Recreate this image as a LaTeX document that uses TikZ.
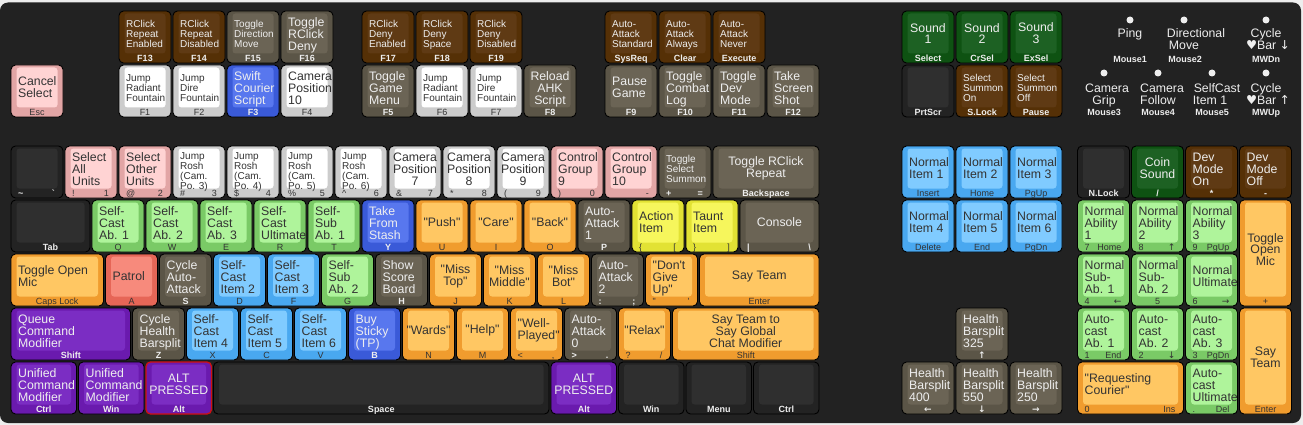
\documentclass[tikz,border=0pt]{standalone}
\usepackage{fontspec}
\setmainfont{Liberation Sans}
\newfontfamily\kbf{Liberation Sans}
\newfontfamily\symf{DejaVu Sans}
\definecolor{kBg}{HTML}{222222}
\definecolor{kOut}{HTML}{EDEDED}
\definecolor{kDkO}{HTML}{232323}\definecolor{kDkI}{HTML}{2F2F2F}
\definecolor{kBrO}{HTML}{553006}\definecolor{kBrI}{HTML}{5F3A14}
\definecolor{kTpO}{HTML}{5B5547}\definecolor{kTpI}{HTML}{6B6455}
\definecolor{kWhO}{HTML}{CCCCCC}\definecolor{kWhI}{HTML}{FFFFFF}
\definecolor{kBlO}{HTML}{3A5AD8}\definecolor{kBlI}{HTML}{5877EE}
\definecolor{kPkO}{HTML}{E2A5A5}\definecolor{kPkI}{HTML}{FFD3D3}
\definecolor{kLgO}{HTML}{7ACA66}\definecolor{kLgI}{HTML}{AFF49B}
\definecolor{kDgO}{HTML}{0E5212}\definecolor{kDgI}{HTML}{1D6123}
\definecolor{kOrO}{HTML}{F09C2E}\definecolor{kOrI}{HTML}{FFC763}
\definecolor{kYeO}{HTML}{E2E234}\definecolor{kYeI}{HTML}{F6F65C}
\definecolor{kReO}{HTML}{E66657}\definecolor{kReI}{HTML}{F78A7C}
\definecolor{kPuO}{HTML}{6A1AAE}\definecolor{kPuI}{HTML}{7B2DC3}
\definecolor{kLbO}{HTML}{49A8F0}\definecolor{kLbI}{HTML}{80CBFF}
\definecolor{kRedB}{HTML}{D01010}
\definecolor{kLtT}{HTML}{EEEEEE}
\definecolor{kDkT}{HTML}{333333}
\pgfkeys{
 /kb/w/.store in=\kbw, /kb/h/.store in=\kbh, /kb/al/.store in=\kbal,
 /kb/sz/.store in=\kbsz, /kb/txt/.store in=\kbtxt, /kb/bl/.store in=\kbbl,
 /kb/bc/.store in=\kbbc, /kb/br/.store in=\kbbr, /kb/oc/.store in=\kboc,
 /kb/ic/.store in=\kbic, /kb/fc/.store in=\kbfc, /kb/lf/.store in=\kblf,
 /kb/bd/.store in=\kbbd, /kb/bw/.store in=\kbbw, /kb/fo/.store in=\kbfo,
 /kb/sWhite/.style={oc=kWhO,ic=kWhI,fc=kDkT,lf=\mdseries},
 /kb/sPink/.style={oc=kPkO,ic=kPkI,fc=kDkT,lf=\mdseries},
 /kb/sLGreen/.style={oc=kLgO,ic=kLgI,fc=kDkT,lf=\mdseries},
 /kb/sOrange/.style={oc=kOrO,ic=kOrI,fc=kDkT,lf=\mdseries},
 /kb/sYellow/.style={oc=kYeO,ic=kYeI,fc=kDkT,lf=\mdseries},
 /kb/sRed/.style={oc=kReO,ic=kReI,fc=kDkT,lf=\mdseries},
 /kb/sLBlue/.style={oc=kLbO,ic=kLbI,fc=kDkT,lf=\mdseries},
 /kb/sBrown/.style={oc=kBrO,ic=kBrI,fc=kLtT,lf=\bfseries},
 /kb/sTaupe/.style={oc=kTpO,ic=kTpI,fc=kLtT,lf=\bfseries},
 /kb/sBlue/.style={oc=kBlO,ic=kBlI,fc=kLtT,lf=\bfseries},
 /kb/sPurple/.style={oc=kPuO,ic=kPuI,fc=kLtT,lf=\bfseries},
 /kb/sDGreen/.style={oc=kDgO,ic=kDgI,fc=kLtT,lf=\bfseries},
 /kb/sDark/.style={oc=kDkO,ic=kDkI,fc=kLtT,lf=\bfseries},
}
\def\szS{S}\def\alTL{tl}\def\alTC{tc}\def\alC{c}\def\alCL{cl}
\newcounter{kbn}
\newcommand\Key[3]{%
 \begingroup
 \stepcounter{kbn}%
 \pgfkeys{/kb/.cd,w=1,h=1,al=tl,sz=L,txt={},bl={},bc={},br={},bd=black,bw=0.9pt,fo={},#3}%
 \pgfmathsetmacro\xa{10+(#1)*54+1}%
 \pgfmathsetmacro\xb{10+(#1+\kbw)*54-1}%
 \pgfmathsetmacro\ya{10+(#2)*54+1}%
 \pgfmathsetmacro\yb{10+(#2+\kbh)*54-1}%
 \pgfmathsetmacro\xm{(\xa+\xb)/2}%
 \pgfmathsetmacro\ym{(\ya+\yb-7)/2}%
 \ifx\kbsz\szS
   \def\kbfont{\kbf\fontsize{10}{10}\selectfont\lineskiplimit=-50pt\relax}\def\kboff{16.5}%
 \else
   \def\kbfont{\kbf\fontsize{12.3}{11.8}\selectfont\lineskiplimit=-50pt\relax}\def\kboff{15.5}%
 \fi
 \ifx\kbfo\empty\else\let\kboff\kbfo\fi
 \draw[draw=\kbbd,fill=\kboc,line width=\kbbw,rounded corners=4.5pt] (\xa,\ya) rectangle (\xb,\yb);
 \fill[\kbic,rounded corners=3pt] (\xa+5.5,\ya+2.5) rectangle (\xb-5.5,\yb-9.5);
 \ifx\kbtxt\empty\else
  \ifx\kbal\alTL
   \node[inner sep=0,text=\kbfc,anchor=base west] (kt\thekbn) at (\xa+7,\ya+\kboff)
     {\kbfont\vtop{\let\\\cr\halign{##\hfil\cr\kbtxt\crcr}}};\fi
  \ifx\kbal\alTC
   \node[inner sep=0,text=\kbfc,anchor=base] (kt\thekbn) at (\xm,\ya+\kboff)
     {\kbfont\vtop{\let\\\cr\halign{\hfil##\hfil\cr\kbtxt\crcr}}};\fi
  \ifx\kbal\alCL
   \node[inner sep=0,text=\kbfc,anchor=west] (kt\thekbn) at (\xa+7,\ym)
     {\kbfont\vbox{\let\\\cr\halign{##\hfil\cr\kbtxt\crcr}}};\fi
  \ifx\kbal\alC
   \node[inner sep=0,text=\kbfc,anchor=center] (kt\thekbn) at (\xm,\ym)
     {\kbfont\vbox{\let\\\cr\halign{\hfil##\hfil\cr\kbtxt\crcr}}};\fi
 \fi
 \node[inner sep=0,text=\kbfc,font=\kbf\fontsize{9}{9}\selectfont\kblf,anchor=base west] (kl\thekbn) at (\xa+7,\yb-1.8) {\kbbl};
 \node[inner sep=0,text=\kbfc,font=\kbf\fontsize{9}{9}\selectfont\kblf,anchor=base] (kc\thekbn) at (\xm,\yb-1.8) {\kbbc};
 \node[inner sep=0,text=\kbfc,font=\kbf\fontsize{9}{9}\selectfont\kblf,anchor=base east] (kr\thekbn) at (\xb-8,\yb-1.8) {\kbbr};
 \endgroup}
\tikzset{
 mtxt/.style={text=kLtT,font=\kbf\fontsize{12.3}{12}\selectfont,inner sep=0,anchor=base},
 mlab/.style={text=kLtT,font=\kbf\fontsize{9}{9}\selectfont\bfseries,inner sep=0,anchor=base},
 mdot/.style={circle,fill=kLtT,inner sep=0,minimum size=7pt}
}
\begin{document}
\begin{tikzpicture}[x=1pt,y=-1pt]
\useasboundingbox (0,0) rectangle (1303,425);
\fill[kOut] (0,0) rectangle (1303,425);
\fill[kBg,rounded corners=8pt] (0,2.5) rectangle (1301,423);
% ---- row 0
\Key{2}{0}{sBrown,sz=S,txt={RClick\\Repeat\\Enabled},bc=F13}
\Key{3}{0}{sBrown,sz=S,txt={RClick\\Repeat\\Disabled},bc=F14}
\Key{4}{0}{sTaupe,sz=S,txt={Toggle\\Direction\\Move},bc=F15}
\Key{5}{0}{sTaupe,txt={Toggle\\RClick\\Deny},bc=F16}
\Key{6.5}{0}{sBrown,sz=S,txt={RClick\\Deny\\Enabled},bc=F17}
\Key{7.5}{0}{sBrown,sz=S,txt={RClick\\Deny\\Space},bc=F18}
\Key{8.5}{0}{sBrown,sz=S,txt={RClick\\Deny\\Disabled},bc=F19}
\Key{11}{0}{sBrown,sz=S,txt={Auto-\\Attack\\Standard},bc=SysReq}
\Key{12}{0}{sBrown,sz=S,txt={Auto-\\Attack\\Always},bc=Clear}
\Key{13}{0}{sBrown,sz=S,txt={Auto-\\Attack\\Never},bc=Execute}
\Key{16.5}{0}{sDGreen,al=c,txt={Sound\\1},bc=Select}
\Key{17.5}{0}{sDGreen,al=c,txt={Sound\\2},bc=CrSel}
\Key{18.5}{0}{sDGreen,al=c,txt={Sound\\3},bc=ExSel}
% ---- row 1
\Key{0}{1}{sPink,al=cl,txt={Cancel\\Select},bc=Esc}
\Key{2}{1}{sWhite,sz=S,txt={Jump\\Radiant\\Fountain},bc=F1}
\Key{3}{1}{sWhite,sz=S,txt={Jump\\Dire\\Fountain},bc=F2}
\Key{4}{1}{sBlue,txt={Swift\\Courier\\Script},bc=F3}
\Key{5}{1}{sWhite,txt={Camera\\Position\\10},bc=F4}
\Key{6.5}{1}{sTaupe,txt={Toggle\\Game\\Menu},bc=F5}
\Key{7.5}{1}{sWhite,sz=S,txt={Jump\\Radiant\\Fountain},bc=F6}
\Key{8.5}{1}{sWhite,sz=S,txt={Jump\\Dire\\Fountain},bc=F7}
\Key{9.5}{1}{sTaupe,al=tc,txt={Reload\\AHK\\Script},bc=F8}
\Key{11}{1}{sTaupe,al=cl,txt={Pause\\Game},bc=F9}
\Key{12}{1}{sTaupe,txt={Toggle\\Combat\\Log},bc=F10}
\Key{13}{1}{sTaupe,txt={Toggle\\Dev\\Mode},bc=F11}
\Key{14}{1}{sTaupe,txt={Take\\Screen\\Shot},bc=F12}
\Key{16.5}{1}{sDark,bc=PrtScr}
\Key{17.5}{1}{sBrown,sz=S,txt={Select\\Summon\\On},bc=S.Lock}
\Key{18.5}{1}{sBrown,sz=S,txt={Select\\Summon\\Off},bc=Pause}
% ---- number row
\Key{0}{2.5}{sDark,bl=\textasciitilde,br=\textasciigrave}
\Key{1}{2.5}{sPink,txt={Select\\All\\Units},bl=!,br=1}
\Key{2}{2.5}{sPink,txt={Select\\Other\\Units},bl=@,br=2}
\Key{3}{2.5}{sWhite,sz=S,fo=13,txt={Jump\\Rosh\\(Cam.\\Po. 3)},bl=\#,br=3}
\Key{4}{2.5}{sWhite,sz=S,fo=13,txt={Jump\\Rosh\\(Cam.\\Po. 4)},bl=\$,br=4}
\Key{5}{2.5}{sWhite,sz=S,fo=13,txt={Jump\\Rosh\\(Cam.\\Po. 5)},bl=\%,br=5}
\Key{6}{2.5}{sWhite,sz=S,fo=13,txt={Jump\\Rosh\\(Cam.\\Po. 6)},bl=\textasciicircum,br=6}
\Key{7}{2.5}{sWhite,al=tc,txt={Camera\\Position\\7},bl=\&,br=7}
\Key{8}{2.5}{sWhite,al=tc,txt={Camera\\Position\\8},bl=*,br=8}
\Key{9}{2.5}{sWhite,al=tc,txt={Camera\\Position\\9},bl=(,br=9}
\Key{10}{2.5}{sPink,txt={Control\\Group\\9},bl=),br=0}
\Key{11}{2.5}{sPink,txt={Control\\Group\\10},br=-}
\Key{12}{2.5}{sTaupe,sz=S,txt={Toggle\\Select\\Summon},bl=+,br={=}}
\Key{13}{2.5}{sTaupe,w=2,al=c,txt={Toggle RClick\\Repeat},bc=Backspace}
\Key{16.5}{2.5}{sLBlue,al=cl,txt={Normal\\Item 1},bc=Insert}
\Key{17.5}{2.5}{sLBlue,al=cl,txt={Normal\\Item 2},bc=Home}
\Key{18.5}{2.5}{sLBlue,al=cl,txt={Normal\\Item 3},bc=PgUp}
\Key{19.75}{2.5}{sDark,bc=N.Lock}
\Key{20.75}{2.5}{sDGreen,al=c,txt={Coin\\Sound},bc=/}
\Key{21.75}{2.5}{sBrown,txt={Dev\\Mode\\On},bc=*}
\Key{22.75}{2.5}{sBrown,txt={Dev\\Mode\\Off},bc=-}
% ---- Q row
\Key{0}{3.5}{sDark,w=1.5,bc=Tab}
\Key{1.5}{3.5}{sLGreen,txt={Self-\\Cast\\Ab. 1},bc=Q}
\Key{2.5}{3.5}{sLGreen,txt={Self-\\Cast\\Ab. 2},bc=W}
\Key{3.5}{3.5}{sLGreen,txt={Self-\\Cast\\Ab. 3},bc=E}
\Key{4.5}{3.5}{sLGreen,txt={Self-\\Cast\\Ultimate},bc=R}
\Key{5.5}{3.5}{sLGreen,txt={Self-\\Sub\\Ab. 1},bc=T}
\Key{6.5}{3.5}{sBlue,txt={Take\\From\\Stash},bc=Y}
\Key{7.5}{3.5}{sOrange,al=c,txt={"Push"},bc=U}
\Key{8.5}{3.5}{sOrange,al=c,txt={"Care"},bc=I}
\Key{9.5}{3.5}{sOrange,al=c,txt={"Back"},bc=O}
\Key{10.5}{3.5}{sTaupe,txt={Auto-\\Attack\\1},bc=P}
\Key{11.5}{3.5}{sYellow,al=cl,txt={Action\\Item},bl=\{,br=[}
\Key{12.5}{3.5}{sYellow,al=cl,txt={Taunt\\Item},bl=\},br=]}
\Key{13.5}{3.5}{sTaupe,w=1.5,al=c,txt={Console},bl=|,br=\textbackslash}
\Key{16.5}{3.5}{sLBlue,al=cl,txt={Normal\\Item 4},bc=Delete}
\Key{17.5}{3.5}{sLBlue,al=cl,txt={Normal\\Item 5},bc=End}
\Key{18.5}{3.5}{sLBlue,al=cl,txt={Normal\\Item 6},bc=PgDn}
\Key{19.75}{3.5}{sLGreen,txt={Normal\\Ability\\1},bl=7,br=Home}
\Key{20.75}{3.5}{sLGreen,txt={Normal\\Ability\\2},bl=8,br=\symf ↑}
\Key{21.75}{3.5}{sLGreen,txt={Normal\\Ability\\3},bl=9,br=PgUp}
\Key{22.75}{3.5}{sOrange,h=2,al=c,txt={Toggle\\Open\\Mic},bc=+}
% ---- A row
\Key{0}{4.5}{sOrange,w=1.75,al=cl,txt={Toggle Open\\Mic},bc=Caps Lock}
\Key{1.75}{4.5}{sRed,al=cl,txt={Patrol},bc=A}
\Key{2.75}{4.5}{sTaupe,txt={Cycle\\Auto-\\Attack},bc=S}
\Key{3.75}{4.5}{sLBlue,txt={Self-\\Cast\\Item 2},bc=D}
\Key{4.75}{4.5}{sLBlue,txt={Self-\\Cast\\Item 3},bc=F}
\Key{5.75}{4.5}{sLGreen,txt={Self-\\Sub\\Ab. 2},bc=G}
\Key{6.75}{4.5}{sTaupe,txt={Show\\Score\\Board},bc=H}
\Key{7.75}{4.5}{sOrange,al=c,txt={"Miss\\Top"},bc=J}
\Key{8.75}{4.5}{sOrange,al=c,txt={"Miss\\Middle"},bc=K}
\Key{9.75}{4.5}{sOrange,al=c,txt={"Miss\\Bot"},bc=L}
\Key{10.75}{4.5}{sTaupe,txt={Auto-\\Attack\\2},bl=:,br=;}
\Key{11.75}{4.5}{sOrange,txt={"Don't\\Give\\Up"},bl=",br='}
\Key{12.75}{4.5}{sOrange,w=2.25,al=c,txt={Say Team},bc=Enter}
\Key{19.75}{4.5}{sLGreen,txt={Normal\\Sub-\\Ab. 1},bl=4,br=\symf ←}
\Key{20.75}{4.5}{sLGreen,txt={Normal\\Sub-\\Ab. 2},bc=5}
\Key{21.75}{4.5}{sLGreen,al=cl,txt={Normal\\Ultimate},bl=6,br=\symf →}
% ---- Z row
\Key{0}{5.5}{sPurple,w=2.25,txt={Queue\\Command\\Modifier},bc=Shift}
\Key{2.25}{5.5}{sTaupe,txt={Cycle\\Health\\Barsplit},bc=Z}
\Key{3.25}{5.5}{sLBlue,txt={Self-\\Cast\\Item 4},bc=X}
\Key{4.25}{5.5}{sLBlue,txt={Self-\\Cast\\Item 5},bc=C}
\Key{5.25}{5.5}{sLBlue,txt={Self-\\Cast\\Item 6},bc=V}
\Key{6.25}{5.5}{sBlue,txt={Buy\\Sticky\\(TP)},bc=B}
\Key{7.25}{5.5}{sOrange,al=c,txt={"Wards"},bc=N}
\Key{8.25}{5.5}{sOrange,al=c,txt={"Help"},bc=M}
\Key{9.25}{5.5}{sOrange,al=cl,txt={"Well-\\Played"},bl=<,br={,}}
\Key{10.25}{5.5}{sTaupe,txt={Auto-\\Attack\\0},bl=>,br=.}
\Key{11.25}{5.5}{sOrange,al=c,txt={"Relax"},bl=?,br=/}
\Key{12.25}{5.5}{sOrange,w=2.75,al=tc,txt={Say Team to\\Say Global\\Chat Modifier},bc=Shift}
\Key{17.5}{5.5}{sTaupe,txt={Health\\Barsplit\\325},bc=\symf ↑}
\Key{19.75}{5.5}{sLGreen,txt={Auto-\\cast\\Ab. 1},bl=1,br=End}
\Key{20.75}{5.5}{sLGreen,txt={Auto-\\cast\\Ab. 2},bl=2,br=\symf ↓}
\Key{21.75}{5.5}{sLGreen,txt={Auto-\\cast\\Ab. 3},bl=3,br=PgDn}
\Key{22.75}{5.5}{sOrange,h=2,al=c,txt={Say\\Team},bc=Enter}
% ---- bottom row
\Key{0}{6.5}{sPurple,w=1.25,txt={Unified\\Command\\Modifier},bc=Ctrl}
\Key{1.25}{6.5}{sPurple,w=1.25,txt={Unified\\Command\\Modifier},bc=Win}
\Key{2.5}{6.5}{sPurple,w=1.25,al=c,txt={ALT\\PRESSED},bc=Alt,bd=kRedB,bw=1.3pt}
\Key{3.75}{6.5}{sDark,w=6.25,bc=Space}
\Key{10}{6.5}{sPurple,w=1.25,al=c,txt={ALT\\PRESSED},bc=Alt}
\Key{11.25}{6.5}{sDark,w=1.25,bc=Win}
\Key{12.5}{6.5}{sDark,w=1.25,bc=Menu}
\Key{13.75}{6.5}{sDark,w=1.25,bc=Ctrl}
\Key{16.5}{6.5}{sTaupe,txt={Health\\Barsplit\\400},bc=\symf ←}
\Key{17.5}{6.5}{sTaupe,txt={Health\\Barsplit\\550},bc=\symf ↓}
\Key{18.5}{6.5}{sTaupe,txt={Health\\Barsplit\\250},bc=\symf →}
\Key{19.75}{6.5}{sOrange,w=2,al=cl,txt={"Requesting\\Courier"},bl=0,br=Ins}
\Key{21.75}{6.5}{sLGreen,txt={Auto-\\cast\\Ultimate},bl=.,br=Del}
% ---- mouse legend
\node[mdot] (d1) at (1130,20) {};
\node[mtxt] (t1a) at (1130,37.5) {Ping};
\node[mlab] (l1) at (1130,62.5) {Mouse1};
\node[mdot] (d2) at (1184,20) {};
\node[mtxt] (t2a) at (1196,37.5) {Directional};
\node[mtxt] (t2b) at (1184,49.5) {Move};
\node[mlab] (l2) at (1185,62.5) {Mouse2};
\node[mdot] (d3) at (1266,20) {};
\node[mtxt] (t3a) at (1266,37.5) {Cycle};
\node[mtxt] (t3b) at (1268,49.5) {{\symf ♥}Bar {\symf ↓}};
\node[mlab] (l3) at (1266,62.5) {MWDn};
\node[mdot] (d4) at (1104,73) {};
\node[mtxt] (t4a) at (1107,92.5) {Camera};
\node[mtxt] (t4b) at (1104,104.5) {Grip};
\node[mlab] (l4) at (1104,116) {Mouse3};
\node[mdot] (d5) at (1158,73) {};
\node[mtxt] (t5a) at (1162,92.5) {Camera};
\node[mtxt] (t5b) at (1158,104.5) {Follow};
\node[mlab] (l5) at (1158,116) {Mouse4};
\node[mdot] (d6) at (1212,73) {};
\node[mtxt] (t6a) at (1217,92.5) {SelfCast};
\node[mtxt] (t6b) at (1210,104.5) {Item 1};
\node[mlab] (l6) at (1212,116) {Mouse5};
\node[mdot] (d7) at (1266,73) {};
\node[mtxt] (t7a) at (1266,92.5) {Cycle};
\node[mtxt] (t7b) at (1268,104.5) {{\symf ♥}Bar {\symf ↑}};
\node[mlab] (l7) at (1266,116) {MWUp};
\end{tikzpicture}
\end{document}
